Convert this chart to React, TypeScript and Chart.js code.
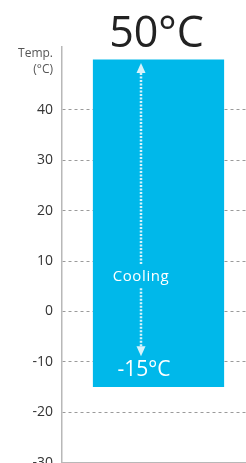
import React, { useEffect, useRef } from "react";
import { Chart, registerables } from "chart.js";

Chart.register(...registerables);

const categories = ["Cooling range"];
const rangeLow = [-15];
const rangeHigh = [50];
const yMin = -30;
const yMax = 52.5;
const tickStep = 10;
const titleText = "50°C";
const lowText = "-15°C";
const arrowLabel = "Cooling";
const axisTitle = ["Temp.", "(°C)"];
const arrowTop = 49.3;
const arrowBottom = -8.9;
const arrowLabelValue = 6.8;
const lowTextValue = -11.7;

const FONT = "'Open Sans', 'Noto Sans', sans-serif";

const annotate = {
  id: "annotate",
  afterDatasetsDraw(chart: any) {
    const { ctx, chartArea } = chart;
    const x = chart.scales.x;
    const y = chart.scales.y;
    const cx = x.getPixelForValue(0);
    const ax = cx - 17.5;

    ctx.save();
    // Title
    ctx.fillStyle = "#222";
    ctx.font = `500 43px ${FONT}`;
    ctx.textAlign = "center";
    ctx.textBaseline = "alphabetic";
    ctx.fillText(titleText, cx - 2, chartArea.top);

    // Axis title
    ctx.fillStyle = "#555";
    ctx.font = `12px ${FONT}`;
    ctx.textAlign = "right";
    ctx.textBaseline = "middle";
    ctx.fillText(axisTitle[0], chartArea.left - 9, chartArea.top + 7);
    ctx.fillText(axisTitle[1], chartArea.left - 9, chartArea.top + 23);

    // Arrow
    const col = "rgba(225,245,252,0.95)";
    const yTop = y.getPixelForValue(arrowTop);
    const yBot = y.getPixelForValue(arrowBottom);
    const yLab = y.getPixelForValue(arrowLabelValue);
    const headH = 10;
    const headW = 4.5;
    ctx.fillStyle = col;
    ctx.beginPath();
    ctx.moveTo(ax, yTop);
    ctx.lineTo(ax - headW, yTop + headH);
    ctx.lineTo(ax + headW, yTop + headH);
    ctx.closePath();
    ctx.fill();
    ctx.beginPath();
    ctx.moveTo(ax, yBot);
    ctx.lineTo(ax - headW, yBot - headH);
    ctx.lineTo(ax + headW, yBot - headH);
    ctx.closePath();
    ctx.fill();

    ctx.strokeStyle = col;
    ctx.lineWidth = 2.5;
    ctx.setLineDash([2, 1.5]);
    ctx.beginPath();
    ctx.moveTo(ax, yTop + headH);
    ctx.lineTo(ax, yLab - 13);
    ctx.moveTo(ax, yLab + 11);
    ctx.lineTo(ax, yBot - headH);
    ctx.stroke();
    ctx.setLineDash([]);

    ctx.fillStyle = "#fff";
    ctx.font = `500 15px ${FONT}`;
    ctx.textAlign = "center";
    ctx.textBaseline = "middle";
    try { (ctx as any).letterSpacing = "0.6px"; } catch (e) {}
    ctx.fillText(arrowLabel, ax, yLab);
    try { (ctx as any).letterSpacing = "0px"; } catch (e) {}

    ctx.font = `21px ${FONT}`;
    ctx.fillText(lowText, ax + 3, y.getPixelForValue(lowTextValue));
    ctx.restore();
  },
};

export default function App() {
  const ref = useRef<HTMLCanvasElement | null>(null);
  useEffect(() => {
    if (!ref.current) return;
    const chart = new Chart(ref.current, {
      type: "bar",
      data: {
        labels: categories,
        datasets: [
          {
            data: categories.map((_, i) => [rangeLow[i], rangeHigh[i]]) as any,
            backgroundColor: "#00B8EA",
            borderWidth: 0,
            categoryPercentage: 1,
            barPercentage: 0.68,
          },
        ],
      },
      options: {
        responsive: false,
        animation: false,
        layout: { padding: { top: 47, left: 0, right: 0, bottom: 0 } },
        plugins: { legend: { display: false }, tooltip: { enabled: false }, title: { display: false } },
        scales: {
          x: {
            grid: { display: false, drawTicks: false },
            ticks: { display: false },
            border: { display: true, color: "#b8b8b8", width: 1.5 },
          },
          y: {
            min: yMin,
            max: yMax,
            afterBuildTicks: (s: any) => {
              s.ticks = s.ticks.filter((t: any) => t.value % tickStep === 0);
            },
            afterFit: (s: any) => {
              s.width = 62;
            },
            ticks: {
              stepSize: tickStep,
              color: "#333",
              padding: 9,
              font: { family: FONT, size: 14 },
            },
            grid: { color: "#9a9a9a", lineWidth: 1, drawTicks: false },
            border: { display: true, color: "#b8b8b8", width: 1.5, dash: [3, 3] },
          },
        },
      },
      plugins: [annotate],
    });
    return () => chart.destroy();
  }, []);
  return (
    <div style={{ position: "fixed", left: 0, top: 0, width: 246, height: 463, overflow: "hidden", background: "#fff" }}>
      <canvas ref={ref} width={255} height={480} style={{ width: 255, height: 480, display: "block" }} />
    </div>
  );
}
